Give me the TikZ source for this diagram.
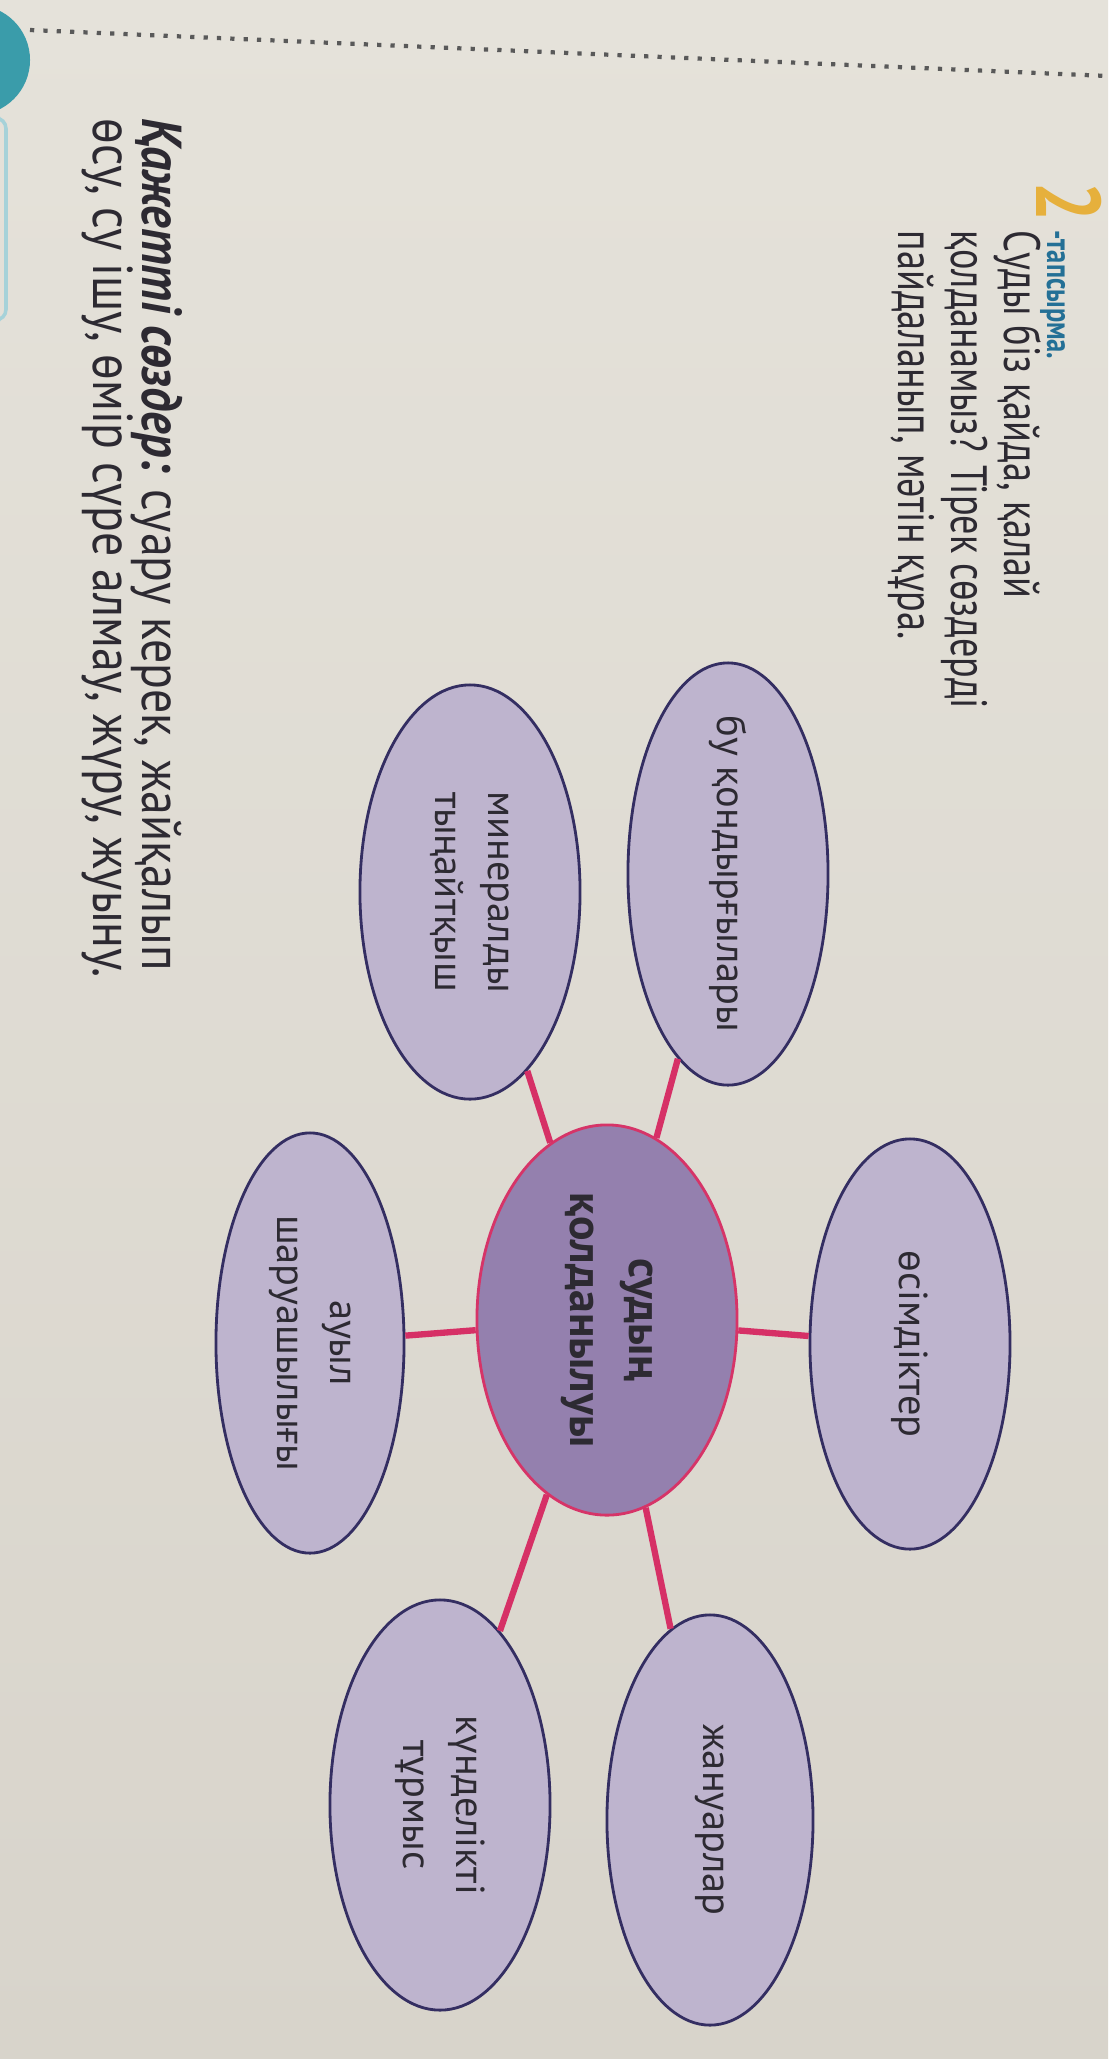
\documentclass[tikz,border=0pt]{standalone}
\usepackage{fontspec}
\setmainfont{PT Sans}
\newfontfamily\headfont[FakeStretch=0.75]{PT Sans}
\newfontfamily\keyfont[FakeStretch=0.85]{PT Sans}
\usetikzlibrary{shapes.geometric}

\definecolor{paperlight}{RGB}{229,226,218}
\definecolor{paperdark}{RGB}{216,212,203}
\definecolor{leaffill}{RGB}{190,180,206}
\definecolor{leafline}{RGB}{52,46,98}
\definecolor{hubfill}{RGB}{148,128,174}
\definecolor{hubline}{RGB}{214,52,104}
\definecolor{spokepink}{RGB}{214,48,102}
\definecolor{inkgray}{RGB}{45,42,50}
\definecolor{tealhead}{RGB}{36,112,150}
\definecolor{numgold}{RGB}{230,176,60}
\definecolor{tabteal}{RGB}{58,156,170}

\begin{document}
\begin{tikzpicture}[x=0.01cm, y=-0.01cm,
    leaf/.style={ellipse, draw=leafline, line width=0.8pt, fill=leaffill, inner sep=0pt},
    hub/.style={ellipse, draw=hubline, line width=0.8pt, fill=hubfill, inner sep=0pt,
      minimum width=2.6cm, minimum height=3.9cm},
    word/.style={rotate=-90, align=center, text=inkgray, font=\fontsize{11.5}{15}\selectfont},
    spoke/.style={draw=spokepink, line width=1.8pt},
    para/.style={rotate=-90, align=left, text=inkgray, inner sep=0pt},
  ]
  \shade[top color=paperlight, bottom color=paperdark] (0,0) rectangle (1108,2059);
  \useasboundingbox (0,0) rectangle (1108,2059);

  % page edge
  \fill[tabteal] (-25,60) circle [radius=0.55cm];
  \draw[tabteal!45, line width=1pt, rounded corners=3pt] (0,118) -- (6,118) -- (6,320) -- (0,320);
  \draw[black!65, line width=1.2pt, dash pattern=on 1.2pt off 2.6pt] (30,30) -- (1108,76);

  % task heading
  \node[rotate=-90, anchor=base east, text=numgold, inner sep=0pt,
    font=\headfont\bfseries\fontsize{26}{26}\selectfont] (tasknum) at (1036,222) {2};
  \node[rotate=-90, anchor=base west, text=tealhead, inner sep=0pt,
    font=\headfont\bfseries\fontsize{10}{12}\selectfont] (tasklbl) at (1047,230) {-тапсырма.};
  \node[para, anchor=north west, font=\headfont\fontsize{14.5}{15}\selectfont] (task) at (1042,230)
    {Суды біз қайда, қалай\\қолданамыз? Тірек сөздерді\\пайдаланып, мәтін құра.};

  % mind map
  \node[hub] (hub) at (607,1320) {};
  \node[word, font=\bfseries\fontsize{13}{17}\selectfont] (hub-t) at (hub) {судың\\қолданылуы};

  \foreach \nm/\cx/\cy/\rw/\rh/\txt in {
      bu/728/874/2.0/4.22/{бу қондырғылары},
      min/470/892/2.2/4.14/{минералды\\тыңайтқыш},
      plant/910/1344/2.0/4.1/{өсімдіктер},
      farm/310/1343/1.88/4.2/{ауыл\\шаруашылығы},
      animal/710/1820/2.06/4.1/{жануарлар},
      home/440/1805/2.2/4.1/{күнделікті\\тұрмыс}} {
    \node[leaf, minimum width=\rw cm, minimum height=\rh cm] (\nm) at (\cx,\cy) {};
    \node[word] (\nm-t) at (\nm) {\txt};
  }
  \foreach \nm in {bu, min, plant, farm, animal, home}
    \draw[spoke] (hub) -- (\nm);

  % key words
  \node[para, anchor=north west, font=\keyfont\fontsize{16}{16}\selectfont] (keys) at (184,118)
    {{\bfseries\itshape Қажетті сөздер:} суару керек, жайқалып\\[-2pt]өсу, су ішу, өмір сүре алмау, жүру, жуыну.};
\end{tikzpicture}
\end{document}
